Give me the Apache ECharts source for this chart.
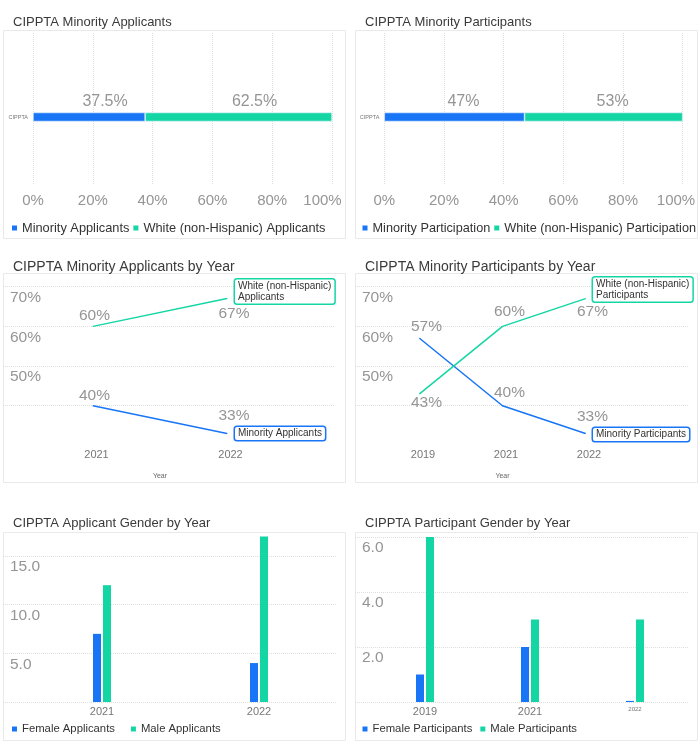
<!DOCTYPE html>
<html><head><meta charset="utf-8">
<script src="https://cdn.jsdelivr.net/npm/echarts@6/dist/echarts.min.js"></script>
<style>html,body{margin:0;padding:0;background:#fff}#c{width:699px;height:744px}</style>
</head><body><div id="c"></div>
<script>
// ---- data ----
const barCategory = ['CIPPTA'];
const minorityApplicants = [37.5];
const whiteApplicants = [62.5];
const minorityParticipation = [47];
const whiteParticipation = [53];

const applicantYears = ['2021', '2022'];
const minorityApplicantsByYear = [40, 33];
const whiteApplicantsByYear = [60, 67];

const participantYears = ['2019', '2021', '2022'];
const minorityParticipantsByYear = [57, 40, 33];
const whiteParticipantsByYear = [43, 60, 67];

const genderApplicantYears = ['2021', '2022'];
const femaleApplicants = [7, 4];
const maleApplicants = [12, 17];

const genderParticipantYears = ['2019', '2021', '2022'];
const femaleParticipants = [1, 2, 0.04];
const maleParticipants = [6, 3, 3];

const titles = ['CIPPTA Minority Applicants', 'CIPPTA Minority Participants',
  'CIPPTA Minority Applicants by Year', 'CIPPTA Minority Participants by Year',
  'CIPPTA Applicant Gender by Year', 'CIPPTA Participant Gender by Year'];
const names = {
  minApp: 'Minority Applicants', whiteApp: 'White (non-Hispanic) Applicants',
  minPartn: 'Minority Participation', whitePartn: 'White (non-Hispanic) Participation',
  minPart: 'Minority Participants', whitePart: 'White (non-Hispanic) Participants',
  femApp: 'Female Applicants', maleApp: 'Male Applicants',
  femPart: 'Female Participants', malePart: 'Male Participants'
};

// ---- styles ----
const BLUE = '#1875F5', TEAL = '#14D6A5';
const FONT = '"Liberation Sans", Arial, sans-serif';
const GRID_LINE = { show: true, lineStyle: { type: 'dotted', color: '#dedede', width: 1 } };
const AXIS_GRAY = '#959595';

const chart = echarts.init(document.getElementById('c'));

function hiddenVal(gi, min, max) { return { type: 'value', gridIndex: gi, show: false, min: min, max: max }; }
function hiddenCat(gi, data) { return { type: 'category', gridIndex: gi, show: false, data: data }; }

function pctValueAxis(gi, showLabels, lastShift) {
  return {
    type: 'value', gridIndex: gi, min: 0, max: 100, interval: 20,
    axisLine: { show: false }, axisTick: { show: false },
    splitLine: showLabels ? { show: false } : GRID_LINE,
    axisLabel: {
      show: showLabels, fontSize: 15, color: AXIS_GRAY, margin: 8,
      formatter: v => v === 100 ? '{m|' + v + '%}' : v + '%',
      rich: { m: { fontSize: 15, color: AXIS_GRAY, padding: [0, lastShift * 2, 0, 0] } }
    }
  };
}
function barCatAxis(gi) {
  return {
    type: 'category', gridIndex: gi, data: barCategory,
    axisLine: { show: false }, axisTick: { show: false },
    axisLabel: { fontSize: 5.5, color: '#777', margin: 5 }
  };
}
function splitYAxis(gi, min, max, interval, fmt) {
  return {
    type: 'value', gridIndex: gi, min: min, max: max, interval: interval,
    axisLine: { show: false }, axisTick: { show: false }, splitLine: GRID_LINE,
    axisLabel: { showMinLabel: false, formatter: fmt, align: 'left', margin: -7,
      verticalAlign: 'top', padding: [3, 0, 0, 0], fontSize: 15.5, color: AXIS_GRAY }
  };
}
function yearAxis(gi, data, withName, shift) {
  const ax = {
    type: 'category', gridIndex: gi, data: data,
    axisLine: { show: false }, axisTick: { show: false },
    axisLabel: { fontSize: 11, color: '#777', margin: 4, padding: [0, 0, 0, shift] }
  };
  if (withName) {
    ax.name = 'Year'; ax.nameLocation = 'middle'; ax.nameGap = 27;
    ax.nameTextStyle = { fontSize: 7, color: '#666' };
  }
  return ax;
}

function stackBar(name, data, color, gi, dx) {
  return {
    type: 'bar', name: name, data: data, stack: 'total' + gi,
    xAxisIndex: gi, yAxisIndex: gi, barWidth: 9,
    itemStyle: { color: color, borderColor: '#e8f3ff', borderWidth: 0.6 },
    label: { show: true, position: 'top', distance: 3, offset: [dx, 0],
      formatter: p => p.value + '%', fontSize: 16, color: AXIS_GRAY }
  };
}

function lineSeries(name, values, color, gi, labelOffsets, endText, endOffset, endDist) {
  return {
    type: 'line', name: name, xAxisIndex: gi, yAxisIndex: gi,
    data: values.map((v, i) => ({ value: v, label: { offset: labelOffsets[i] } })),
    symbol: 'circle', symbolSize: 1, showSymbol: true,
    itemStyle: { color: color }, lineStyle: { color: color, width: 1.5 },
    label: { show: true, position: 'inside', formatter: p => p.value + '%', fontSize: 15.5, color: AXIS_GRAY },
    endLabel: {
      show: true, formatter: endText, distance: endDist, offset: endOffset,
      backgroundColor: '#fff', borderColor: color, borderWidth: 1.5, borderRadius: 2,
      padding: [1, 3], fontSize: 10, lineHeight: 11, color: '#333'
    },
    emphasis: { disabled: true }
  };
}

function genderBar(name, data, color, gi) {
  return {
    type: 'bar', name: name, data: data, xAxisIndex: gi, yAxisIndex: gi,
    barWidth: 8, barGap: '25%', itemStyle: { color: color }
  };
}

function legend(left, top, data, size, gap) {
  return {
    left: left, top: top, data: data, icon: 'rect', itemWidth: 5, itemHeight: 5,
    itemGap: gap, padding: 0, selectedMode: false,
    itemStyle: { borderWidth: 0 },
    textStyle: { fontSize: size, color: '#333', fontFamily: FONT }
  };
}
function title(text, left, top, size) {
  return { text: text, left: left, top: top, padding: 0,
    textStyle: { fontSize: size, fontWeight: 'normal', color: '#3a3a3a', fontFamily: FONT } };
}
function panel(x, y, w, h) {
  return { type: 'rect', shape: { x: x, y: y, width: w, height: h }, silent: true,
    style: { fill: 'none', stroke: '#e9e9e9', lineWidth: 1 } };
}
function grid(left, top, width, height) {
  return { left: left, top: top, width: width, height: height, outerBoundsMode: 'none', containLabel: false };
}

const option = {
  animation: false,
  textStyle: { fontFamily: FONT },
  graphic: [
    panel(3.5, 30.5, 342, 208), panel(355.5, 30.5, 342, 208),
    panel(3.5, 273.5, 342, 209), panel(355.5, 273.5, 342, 209),
    panel(3.5, 532.5, 342, 208), panel(355.5, 532.5, 342, 208)
  ],
  title: [
    title(titles[0], 13, 15.5, 13), title(titles[1], 365, 15.5, 13),
    title(titles[2], 13, 260, 14), title(titles[3], 365, 260, 14),
    title(titles[4], 13, 517, 13), title(titles[5], 365, 517, 13)
  ],
  legend: [
    legend(12, 221.5, [names.minApp, names.whiteApp], 12.8, 4),
    legend(362.5, 221.5, [names.minPartn, names.whitePartn], 12.7, 4),
    legend(12, 723.5, [names.femApp, names.maleApp], 11.3, 16),
    legend(362.5, 723.5, [names.femPart, names.malePart], 11.3, 8)
  ],
  grid: [
    grid(33, 33, 299, 152),
    grid(33, 49, 299, 136),
    grid(384.3, 33, 298.4, 152),
    grid(384.3, 49, 298.4, 136),
    grid(3, 286.7, 332, 119),
    grid(26, 286.7, 268, 158.7),
    grid(355, 286.7, 333, 119),
    grid(378, 286.7, 249, 158.7),
    grid(3, 556, 334, 146),
    grid(23.5, 536.5, 314, 165.5),
    grid(355, 537, 333, 165),
    grid(372.5, 537, 315, 165)
  ],
  xAxis: [
    pctValueAxis(0, false, 0), pctValueAxis(1, true, 9.5),
    pctValueAxis(2, false, 0), pctValueAxis(3, true, 6.7),
    hiddenVal(4, 0, 1), yearAxis(5, applicantYears, true, 7),
    hiddenVal(6, 0, 1), yearAxis(7, participantYears, true, 7),
    hiddenVal(8, 0, 1), yearAxis(9, genderApplicantYears, false, 0),
    hiddenVal(10, 0, 1),
    yearAxis(11, genderParticipantYears.map((y, i) =>
      i === genderParticipantYears.length - 1 ? { value: y, textStyle: { fontSize: 6 } } : y), false, 0)
  ],
  yAxis: [
    hiddenCat(0, barCategory), barCatAxis(1),
    hiddenCat(2, barCategory), barCatAxis(3),
    splitYAxis(4, 40, 70, 10, '{value}%'), hiddenVal(5, 30, 70),
    splitYAxis(6, 40, 70, 10, '{value}%'), hiddenVal(7, 30, 70),
    splitYAxis(8, 0, 15, 5, v => v.toFixed(1)), hiddenVal(9, 0, 17),
    splitYAxis(10, 0, 6, 2, v => v.toFixed(1)), hiddenVal(11, 0, 6)
  ],
  series: [
    stackBar(names.minApp, minorityApplicants, BLUE, 1, 16),
    stackBar(names.whiteApp, whiteApplicants, TEAL, 1, 16),
    stackBar(names.minPartn, minorityParticipation, BLUE, 3, 9),
    stackBar(names.whitePartn, whiteParticipation, TEAL, 3, 9),

    lineSeries(names.minApp, minorityApplicantsByYear, BLUE, 5,
      [[1.5, -10.3], [7, -17.6]], 'Minority Applicants', [0, 0], 8),
    lineSeries(names.whiteApp, whiteApplicantsByYear, TEAL, 5,
      [[1.5, -11], [7, 15]], 'White (non-Hispanic)\nApplicants', [0, -7], 8),

    lineSeries(names.minPart, minorityParticipantsByYear, BLUE, 7,
      [[7, -11.6], [7, -13], [7, -16.3]], 'Minority Participants', [0, 1], 7.5),
    lineSeries(names.whitePart, whiteParticipantsByYear, TEAL, 7,
      [[7, 8.9], [7, -14.7], [7, 13.2]], 'White (non-Hispanic)\nParticipants', [0, -9], 7.5),

    genderBar(names.femApp, femaleApplicants, BLUE, 9),
    genderBar(names.maleApp, maleApplicants, TEAL, 9),
    genderBar(names.femPart, femaleParticipants, BLUE, 11),
    genderBar(names.malePart, maleParticipants, TEAL, 11)
  ]
};
chart.setOption(option);
</script>
</body></html>
